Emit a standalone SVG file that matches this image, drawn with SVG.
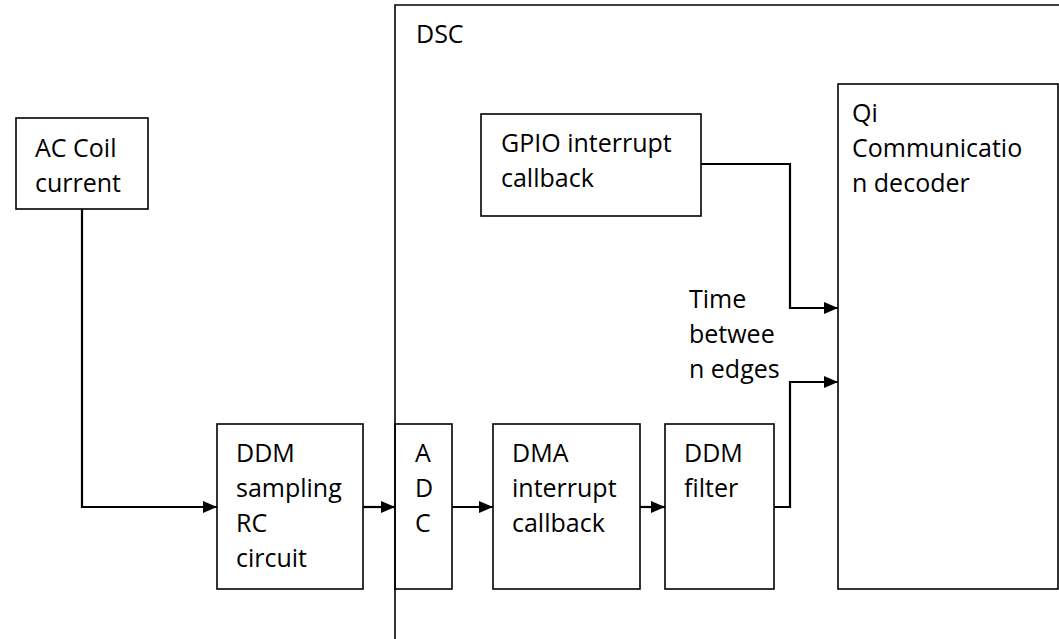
<svg xmlns="http://www.w3.org/2000/svg" width="1059" height="639" viewBox="0 0 1059 639">
<style>
.box{fill:none;stroke:#000;stroke-width:1.6}
.ln{fill:none;stroke:#000;stroke-width:2.2}
text{font-family:"Open Sans","Liberation Sans",sans-serif;font-size:25px;fill:#000}
</style>
<defs>
<marker id="ah" markerWidth="14" markerHeight="14" refX="14" refY="7" orient="auto" markerUnits="userSpaceOnUse" viewBox="0 0 14 14">
<path d="M0,1 L14,7 L0,13 Z" fill="#000"/>
</marker>
</defs>
<rect width="1059" height="639" fill="#fff"/>
<g id="dsc">
<path class="box" d="M395,645 L395,5 L1062,5"/>
<text x="416" y="43">DSC</text>
</g>
<g id="ac-coil">
<rect class="box" x="16" y="118" width="132" height="91"/>
<text x="35" y="157">AC Coil</text>
<text x="35" y="192">current</text>
</g>
<g id="ddm-sampling">
<rect class="box" x="217" y="424" width="146" height="165"/>
<text x="236" y="462">DDM</text>
<text x="236" y="497">sampling</text>
<text x="236" y="532">RC</text>
<text x="236" y="567">circuit</text>
</g>
<g id="adc">
<rect class="box" x="395" y="424" width="57" height="165"/>
<text x="415" y="462">A</text>
<text x="415" y="497">D</text>
<text x="415" y="532">C</text>
</g>
<g id="dma">
<rect class="box" x="493" y="424" width="147" height="165"/>
<text x="512" y="462">DMA</text>
<text x="512" y="497">interrupt</text>
<text x="512" y="532">callback</text>
</g>
<g id="ddm-filter">
<rect class="box" x="665" y="424" width="109" height="165"/>
<text x="684" y="462">DDM</text>
<text x="684" y="497">filter</text>
</g>
<g id="gpio">
<rect class="box" x="481" y="114" width="220" height="102"/>
<text x="501" y="152">GPIO interrupt</text>
<text x="501" y="187">callback</text>
</g>
<g id="qi">
<rect class="box" x="838" y="84" width="220" height="505"/>
<text x="852" y="122">Qi</text>
<text x="852" y="157">Communicatio</text>
<text x="852" y="192">n decoder</text>
</g>
<g id="label-time">
<text x="689" y="308">Time</text>
<text x="689" y="343">betwee</text>
<text x="689" y="378">n edges</text>
</g>
<g id="connectors">
<path class="ln" d="M82,209 L82,507 L217,507" marker-end="url(#ah)"/>
<path class="ln" d="M363,507 L395,507" marker-end="url(#ah)"/>
<path class="ln" d="M452,507 L493,507" marker-end="url(#ah)"/>
<path class="ln" d="M640,507 L665,507" marker-end="url(#ah)"/>
<path class="ln" d="M774,507 L790,507 L790,382 L838,382" marker-end="url(#ah)"/>
<path class="ln" d="M701,164 L790,164 L790,308 L838,308" marker-end="url(#ah)"/>
</g>
</svg>
